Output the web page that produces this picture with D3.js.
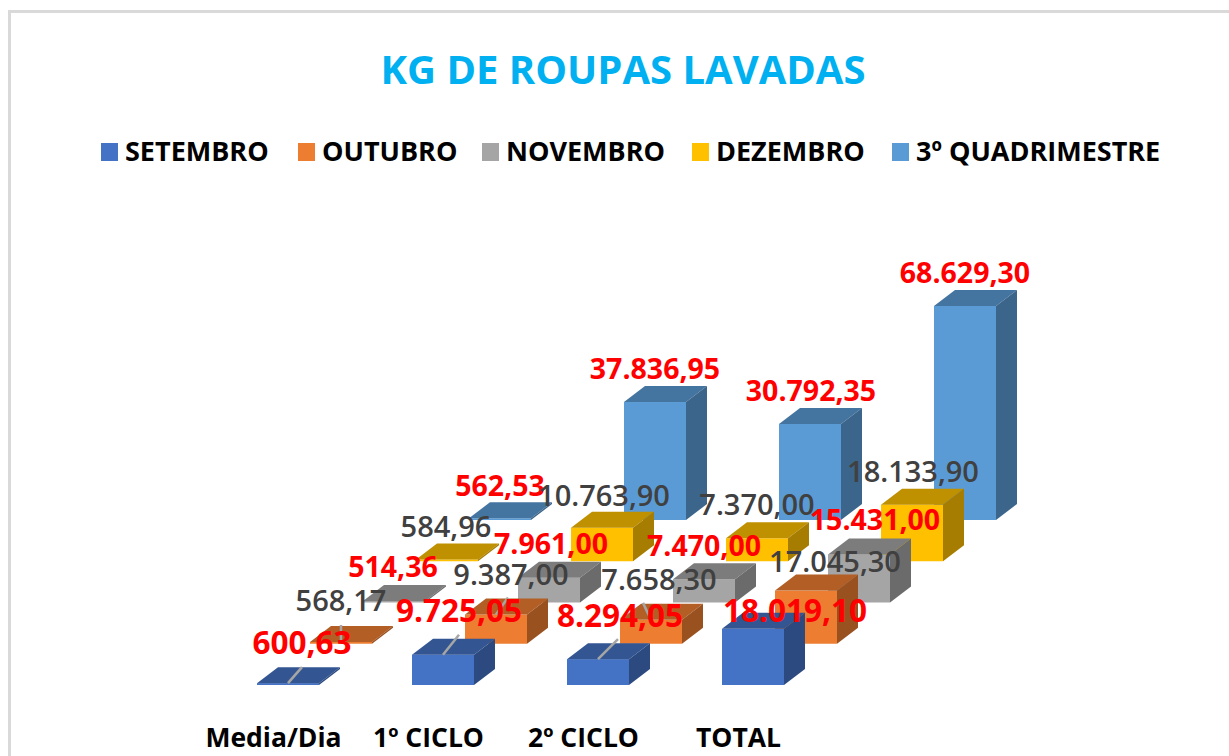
<!DOCTYPE html>
<html>
<head>
<meta charset="utf-8">
<script src="https://cdn.jsdelivr.net/npm/d3@7"></script>
<style>
	html,body{margin:0;padding:0;background:#fff;overflow:hidden;}
	text{font-family:"Open Sans","Noto Sans",sans-serif;}
</style>
</head>
<body>
<div id="chart"></div>
<script>
var categories = ["Media/Dia","1º CICLO","2º CICLO","TOTAL"];
var seriesNames = ["SETEMBRO","OUTUBRO","NOVEMBRO","DEZEMBRO","3º QUADRIMESTRE"];

var setembro = [600.63,9725.05,8294.05,18019.10];
var outubro = [568.17,9387.00,7658.30,17045.30];
var novembro = [514.36,7961.00,7470.00,15431.00];
var dezembro = [584.96,10763.90,7370.00,18133.90];
var quadrimestre = [562.53,37836.95,30792.35,68629.30];
var seriesValues = [setembro,outubro,novembro,dezembro,quadrimestre];

var seriesColors = ["#4472c4","#ed7d31","#a5a5a5","#ffc000","#5b9bd5"];
var labelColors = ["#ff0000","#404040","#ff0000","#404040","#ff0000"];
var labelSizes = [31.5,29,28.5,29,28.5];

// where the labels were dragged to in the original, relative to the bar top
var labelNudge = [
	[[14,-40],[16,-44],[22,-43],[42,-18]],
	[[0,-41],[15,-40],[8,-40],[29,-29]],
	[[-1,-34],[2,-34],[0,-33],[16,-34]],
	[[-1,-33],[2,-32],[0,-33],[1,-33]],
	[[0,-32],[0,-33],[1,-33],[0,-33]]
];
// leader lines: series, category, end point relative to the bar top
var leaders = [
	[0,0,14,-16],[0,1,16,-20],[0,2,20,-20],
	[1,0,0,-17],[1,1,12,-17],[1,2,-8,-17]
];

var w = 1229, h = 756;
var barW = 62, depthX = 21, depthY = 16;

var svg = d3.select("#chart").append("svg")
	.attr("width",w)
	.attr("height",h)
	.style("display","block");

// frame
svg.append("path")
	.attr("d","M9.5,756V11.5H1229")
	.attr("fill","none")
	.attr("stroke","#d9d9d9")
	.attr("stroke-width",3);

var catX = d3.scalePoint().domain(categories).range([288,753]);
var serX = d3.scalePoint().domain(seriesNames).range([0,212]);
var serY = d3.scalePoint().domain(seriesNames).range([685,520]);
var barH = d3.scaleLinear().domain([0,68629.30]).range([0,214]);
var fmt = d3.formatLocale({decimal:",",thousands:".",grouping:[3],currency:["R$",""]}).format(",.2f");

function shade(color,k){
	var c = d3.rgb(color);
	return d3.rgb(c.r*k,c.g*k,c.b*k).formatHex();
}

svg.append("text")
	.attr("x",623)
	.attr("y",70)
	.attr("dy","0.35em")
	.attr("text-anchor","middle")
	.attr("font-size",40)
	.attr("font-weight",700)
	.attr("fill","#00b0f0")
	.text("KG DE ROUPAS LAVADAS");

// legend
var legendX = [101,298,482,692,892];
var legend = svg.selectAll(".legendItem").data(seriesNames).enter().append("g")
	.attr("class","legendItem")
	.attr("transform",function(d,i){
		return "translate(" + legendX[i] + ",152)";
	});
legend.append("rect")
	.attr("y",-9)
	.attr("width",17)
	.attr("height",18)
	.attr("fill",function(d,i){
		return seriesColors[i];
	});
legend.append("text")
	.attr("x",24)
	.attr("dy","0.35em")
	.attr("font-size",27)
	.attr("font-weight",700)
	.attr("fill","#000")
	.text(function(d){
		return d;
	});

// flatten, back row first so the front bars cover the back ones
var bars = [];
for (var s = seriesNames.length-1; s>=0; s--){
	for (var c = 0; c<categories.length; c++){
		var v = seriesValues[s][c];
		var x = catX(categories[c]) + serX(seriesNames[s]);
		var base = serY(seriesNames[s]);
		bars.push({s:s,c:c,v:v,cx:x,left:x-barW/2,right:x+barW/2,base:base,top:base-barH(v)});
	}
}

var bar = svg.selectAll(".bar3d").data(bars).enter().append("g").attr("class","bar3d");

bar.append("rect")
	.attr("x",function(d){ return d.left; })
	.attr("y",function(d){ return d.top; })
	.attr("width",barW)
	.attr("height",function(d){ return d.base-d.top; })
	.attr("fill",function(d){ return seriesColors[d.s]; });

bar.append("polygon")
	.attr("points",function(d){
		return [[d.left,d.top],[d.right,d.top],[d.right+depthX,d.top-depthY],[d.left+depthX,d.top-depthY]].join(" ");
	})
	.attr("fill",function(d){ return shade(seriesColors[d.s],0.75); });

bar.append("polygon")
	.attr("points",function(d){
		return [[d.right,d.top],[d.right+depthX,d.top-depthY],[d.right+depthX,d.base-depthY],[d.right,d.base]].join(" ");
	})
	.attr("fill",function(d){ return shade(seriesColors[d.s],0.65); });

function barOf(s,c){
	return bars.filter(function(b){ return b.s==s && b.c==c; })[0];
}

svg.selectAll(".leader").data(leaders).enter().append("line")
	.attr("class","leader")
	.attr("x1",function(d){ return barOf(d[0],d[1]).cx; })
	.attr("y1",function(d){ return barOf(d[0],d[1]).top; })
	.attr("x2",function(d){ return barOf(d[0],d[1]).cx+d[2]; })
	.attr("y2",function(d){ return barOf(d[0],d[1]).top+d[3]; })
	.attr("stroke","#a6a6a6")
	.attr("stroke-width",2.5);

svg.selectAll(".barLabel").data(bars).enter().append("text")
	.attr("class","barLabel")
	.attr("x",function(d){ return d.cx+labelNudge[d.s][d.c][0]; })
	.attr("y",function(d){ return d.top+labelNudge[d.s][d.c][1]; })
	.attr("dy","0.35em")
	.attr("text-anchor","middle")
	.attr("font-size",function(d){ return labelSizes[d.s]; })
	.attr("font-weight",function(d){ return d.s%2==0 ? 700 : 600; })
	.attr("fill",function(d){ return labelColors[d.s]; })
	.text(function(d){ return fmt(d.v); });

// category axis, labels sit a little left of the bars
var axis = svg.append("g")
	.attr("transform","translate(-15,738)")
	.call(d3.axisBottom(catX).tickSize(0).tickPadding(0));
axis.select(".domain").remove();
axis.selectAll("text")
	.attr("y",0)
	.attr("dy","0.35em")
	.attr("font-size",26.5)
	.attr("font-weight",700)
	.attr("fill","#000");
</script>
</body>
</html>
